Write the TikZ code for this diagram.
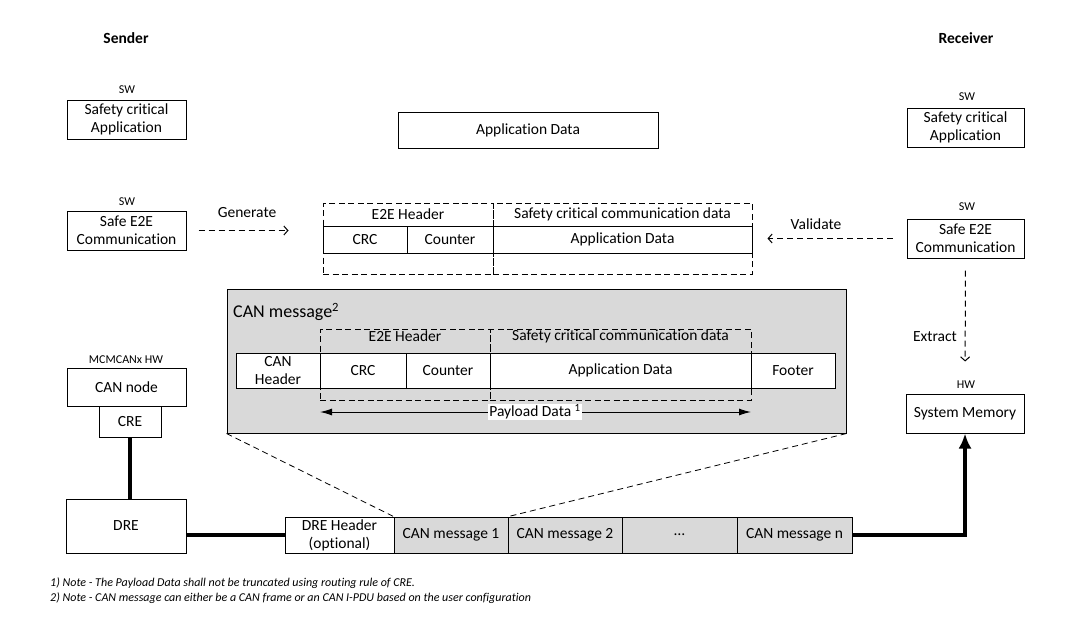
\documentclass[tikz,border=0pt]{standalone}
\usepackage{fontspec}
\setmainfont{Carlito}[Ligatures={NoCommon,NoContextual}]
\usepackage{tikz}
\usetikzlibrary{arrows.meta}
\definecolor{msggray}{HTML}{D9D9D9}

\begin{document}
\begin{tikzpicture}[x=1pt, y=-1pt]
    \tikzset{block/.style={draw, line width=1pt, fill=white, inner sep=0pt, align=center, font=\fontsize{15.5}{18}\selectfont},
             field/.style={block, minimum height=35pt},
             region/.style={draw, line width=1pt, dash pattern=on 6pt off 3.5pt, inner sep=0pt},
             tag/.style={inner sep=0pt, font=\fontsize{12}{14}\selectfont},
             txt/.style={inner sep=0pt, font=\fontsize{15.5}{18}\selectfont},
             flow/.style={line width=1pt, dash pattern=on 6pt off 4pt, -{Straight Barb[length=4pt, width=9pt]}},
             bus/.style={line width=4pt},
             zoomline/.style={line width=0.8pt, dash pattern=on 6pt off 4pt}}
    \useasboundingbox (0,0) rectangle (1092,626);

    \node[txt, font=\fontsize{15.5}{18}\selectfont\bfseries] (snd) at (126,38) {Sender};
    \node[txt, font=\fontsize{15.5}{18}\selectfont\bfseries] (rcv) at (966,38) {Receiver};

    \node[tag] (sw1) at (127,90) {SW};
    \node[block, minimum width=119pt, minimum height=39pt] (sApp) at (126.5,119.5) {Safety critical\\Application};
    \node[tag] (sw2) at (127,202) {SW};
    \node[block, minimum width=119pt, minimum height=39pt] (sE2E) at (126.5,230.5) {Safe E2E\\Communication};
    \node[txt] (gen) at (247,213) {Generate};

    \node[block, minimum width=260pt, minimum height=36pt] (appData) at (528,130) {Application Data};

    \node[region, minimum width=170pt, minimum height=71pt] (hdrA) at (408,238.5) {};
    \node[region, minimum width=259pt, minimum height=71pt] (sfA) at (622.5,238.5) {};
    \node[txt] (hdrAl) at (408,214.5) {E2E Header};
    \node[txt] (sfAl) at (622.5,214.5) {Safety critical communication data};
    \node[block, minimum width=84pt, minimum height=27pt] (crcA) at (365,239.5) {CRC};
    \node[block, minimum width=86pt, minimum height=27pt] (cntA) at (450,239.5) {Counter};
    \node[block, minimum width=259pt, minimum height=27pt] (datA) at (622.5,239.5) {Application Data};

    \node[tag] (sw3) at (967,97) {SW};
    \node[block, minimum width=117pt, minimum height=39pt] (rApp) at (965.5,127.5) {Safety critical\\Application};
    \node[tag] (sw4) at (967,207) {SW};
    \node[block, minimum width=117pt, minimum height=39pt] (rE2E) at (965.5,238.5) {Safe E2E\\Communication};
    \node[txt] (val) at (816,224) {Validate};
    \node[txt] (ext) at (935,337) {Extract};
    \node[tag] (hw) at (966,385) {HW};
    \node[block, minimum width=118pt, minimum height=39pt] (sysMem) at (965,413.5) {System Memory};

    \node[draw, line width=1pt, fill=msggray, minimum width=619pt, minimum height=144pt] (canMsg) at (536.5,361) {};
    \node[txt, anchor=west, font=\fontsize{18}{20}\selectfont] (canMsgl) at (233,312) {CAN message\textsuperscript{2}};
    \node[region, minimum width=170pt, minimum height=71pt] (hdrB) at (405,364.5) {};
    \node[region, minimum width=261pt, minimum height=71pt] (sfB) at (620.5,364.5) {};
    \node[txt] (hdrBl) at (405,336) {E2E Header};
    \node[txt] (sfBl) at (620.5,336) {Safety critical communication data};
    \node[field, minimum width=84pt] (canHdr) at (278,370.5) {CAN\\Header};
    \node[field, minimum width=86pt] (crcB) at (363,370.5) {CRC};
    \node[field, minimum width=84pt] (cntB) at (448,370.5) {Counter};
    \node[field, minimum width=261pt] (datB) at (620.5,370.5) {Application Data};
    \node[field, minimum width=84pt] (foot) at (793,370.5) {Footer};
    \coordinate (pl) at (320,412);
    \coordinate (pr) at (751,412);
    \draw[line width=1pt, {Latex[length=12pt, width=7pt]}-{Latex[length=12pt, width=7pt]}] (pl) -- (pr);
    \node[txt, fill=white, inner sep=1pt] (pay) at (535,412) {Payload Data \textsuperscript{1}};

    \node[tag] (mcm) at (126,360) {MCMCANx HW};
    \node[block, minimum width=119pt, minimum height=38pt] (canNode) at (126.5,387) {CAN node};
    \node[block, minimum width=62pt, minimum height=31pt] (cre) at (130,421.5) {CRE};
    \node[block, minimum width=120pt, minimum height=54pt] (dre) at (126,526) {DRE};

    \node[field, minimum width=109pt, minimum height=36pt] (dreHdr) at (339.5,535) {DRE Header\\(optional)};
    \node[field, minimum width=114pt, minimum height=36pt, fill=msggray] (msg1) at (451,535) {CAN message 1};
    \node[field, minimum width=114pt, minimum height=36pt, fill=msggray] (msg2) at (565,535) {CAN message 2};
    \node[field, minimum width=115pt, minimum height=36pt, fill=msggray] (msgD) at (679.5,535) {\ldots};
    \node[field, minimum width=115pt, minimum height=36pt, fill=msggray] (msgN) at (794.5,535) {CAN message n};

    \node[inner sep=0pt, anchor=west, font=\fontsize{12}{14}\selectfont\itshape] (note1) at (50,583) {1) Note - The Payload Data shall not be truncated using routing rule of CRE.};
    \node[inner sep=0pt, anchor=west, font=\fontsize{12}{14}\selectfont\itshape] (note2) at (50,598) {2) Note - CAN message can either be a CAN frame or an CAN I-PDU based on the user configuration};

    \draw[flow, shorten <=12pt, shorten >=34pt] (sE2E.east) -- (sE2E.east -| hdrA.west);
    \draw[flow, shorten <=14pt, shorten >=15pt] (rE2E.west) -- (rE2E.west -| sfA.east);
    \draw[flow, shorten <=12pt, shorten >=32pt] (rE2E.south) -- (sysMem.north);
    \draw[zoomline] (canMsg.south west) -- (msg1.north west);
    \draw[zoomline] (canMsg.south east) -- (msg1.north east);
    \draw[bus] (cre.south) -- (cre.south |- dre.north);
    \draw[bus] (dreHdr.west -| dre.east) -- (dreHdr.west);
    \draw[bus, -{Latex[length=15pt, width=13pt]}] (msgN.east) -| (sysMem.south);
\end{tikzpicture}
\end{document}
